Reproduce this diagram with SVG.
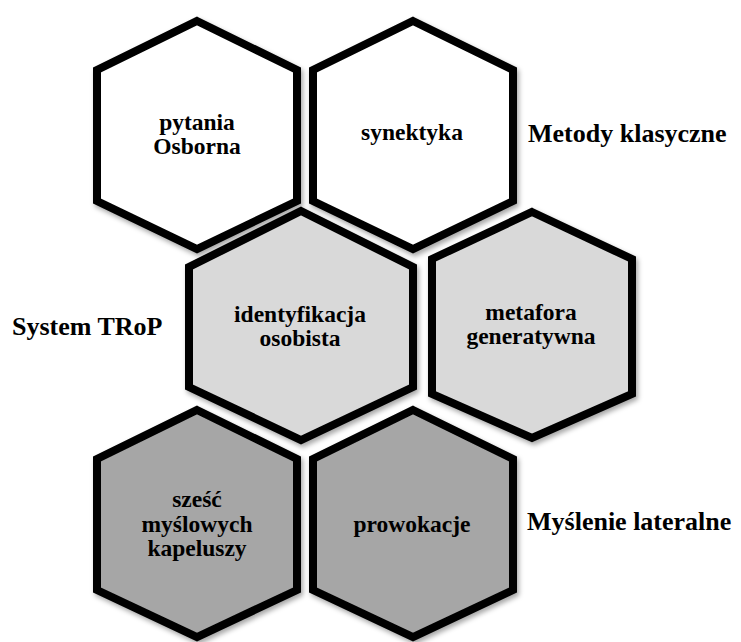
<svg xmlns="http://www.w3.org/2000/svg" width="741" height="642" viewBox="0 0 741 642">
<defs>
<filter id="sh" x="-10%" y="-10%" width="130%" height="130%">
<feDropShadow dx="2" dy="3" stdDeviation="2.5" flood-color="#000" flood-opacity="0.35"/>
</filter>
<style>
.hex{stroke:#000;stroke-width:8;stroke-linejoin:miter;filter:url(#sh)}
.w{fill:#fff}.l{fill:#d9d9d9}.d{fill:#a6a6a6}
.t{font-size:23.5px;text-anchor:middle}
.c{font-size:26px}
</style>
</defs>
<rect width="741" height="642" fill="#fff"/>
<g id="connectors"></g>
<g font-family="Liberation Serif, Times New Roman, DejaVu Serif, serif" font-weight="bold" fill="#000">
<g id="n1"><polygon class="hex w" points="197,21 297,70 297,201 197,249 97,201 97,70"/>
<text class="t" x="197" y="130">pytania</text><text class="t" x="197" y="154">Osborna</text></g>
<g id="n2"><polygon class="hex w" points="413,21 513,70 513,201 413,249 313,201 313,70"/>
<text class="t" x="412" y="140">synektyka</text></g>
<g id="n3"><polygon class="hex l" points="301,211 413,267 413,387 301,440 189,387 189,267"/>
<text class="t" x="300" y="322">identyfikacja</text><text class="t" x="300" y="346">osobista</text></g>
<g id="n4"><polygon class="hex l" points="532,212 632,259 632,394 532,438 432,394 432,259"/>
<text class="t" x="531" y="320">metafora</text><text class="t" x="531" y="344">generatywna</text></g>
<g id="n5"><polygon class="hex d" points="197,410 297,459 297,590 197,637 97,590 97,459"/>
<text class="t" x="197" y="507">sześć</text><text class="t" x="197" y="532">myślowych</text><text class="t" x="197" y="556">kapeluszy</text></g>
<g id="n6"><polygon class="hex d" points="413,410 513,459 513,590 413,637 313,590 313,459"/>
<text class="t" x="412" y="532">prowokacje</text></g>
<g id="labels">
<text class="c" x="528" y="142">Metody klasyczne</text>
<text class="c" x="12" y="335">System TRoP</text>
<text class="c" x="527" y="530">Myślenie lateralne</text>
</g>
</g>
</svg>
